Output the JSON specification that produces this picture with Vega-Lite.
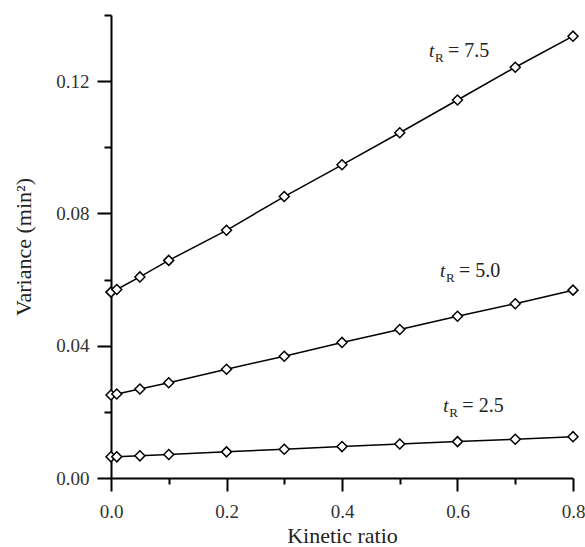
{
  "$schema": "https://vega.github.io/schema/vega-lite/v6.json",
  "width": 462,
  "height": 463,
  "autosize": {"type": "none"},
  "padding": {"left": 111, "top": 15, "right": 12, "bottom": 69},
  "background": "white",
  "config": {
    "view": {"stroke": null},
    "font": "Times New Roman, Liberation Serif, serif",
    "axis": {
      "grid": false,
      "domainColor": "black",
      "domainWidth": 2,
      "tickColor": "black",
      "tickWidth": 2,
      "labelFont": "Times New Roman, Liberation Serif, serif",
      "labelFontSize": 19,
      "labelColor": "#333333",
      "labelFlush": false,
      "titleFont": "Times New Roman, Liberation Serif, serif",
      "titleFontSize": 22,
      "titleFontWeight": "normal",
      "titleColor": "#222222"
    }
  },
  "datasets": {
    "pts": [
      {"ratio": 0.0, "variance": 0.0562, "tR": "7.5"},
      {"ratio": 0.01, "variance": 0.0570, "tR": "7.5"},
      {"ratio": 0.05, "variance": 0.0608, "tR": "7.5"},
      {"ratio": 0.1, "variance": 0.0658, "tR": "7.5"},
      {"ratio": 0.2, "variance": 0.0749, "tR": "7.5"},
      {"ratio": 0.3, "variance": 0.0851, "tR": "7.5"},
      {"ratio": 0.4, "variance": 0.0947, "tR": "7.5"},
      {"ratio": 0.5, "variance": 0.1044, "tR": "7.5"},
      {"ratio": 0.6, "variance": 0.1143, "tR": "7.5"},
      {"ratio": 0.7, "variance": 0.1242, "tR": "7.5"},
      {"ratio": 0.8, "variance": 0.1336, "tR": "7.5"},
      {"ratio": 0.0, "variance": 0.0251, "tR": "5.0"},
      {"ratio": 0.01, "variance": 0.0254, "tR": "5.0"},
      {"ratio": 0.05, "variance": 0.0269, "tR": "5.0"},
      {"ratio": 0.1, "variance": 0.0288, "tR": "5.0"},
      {"ratio": 0.2, "variance": 0.0329, "tR": "5.0"},
      {"ratio": 0.3, "variance": 0.0368, "tR": "5.0"},
      {"ratio": 0.4, "variance": 0.0410, "tR": "5.0"},
      {"ratio": 0.5, "variance": 0.0449, "tR": "5.0"},
      {"ratio": 0.6, "variance": 0.0489, "tR": "5.0"},
      {"ratio": 0.7, "variance": 0.0527, "tR": "5.0"},
      {"ratio": 0.8, "variance": 0.0568, "tR": "5.0"},
      {"ratio": 0.0, "variance": 0.0064, "tR": "2.5"},
      {"ratio": 0.01, "variance": 0.0064, "tR": "2.5"},
      {"ratio": 0.05, "variance": 0.0067, "tR": "2.5"},
      {"ratio": 0.1, "variance": 0.0071, "tR": "2.5"},
      {"ratio": 0.2, "variance": 0.0079, "tR": "2.5"},
      {"ratio": 0.3, "variance": 0.0087, "tR": "2.5"},
      {"ratio": 0.4, "variance": 0.0095, "tR": "2.5"},
      {"ratio": 0.5, "variance": 0.0103, "tR": "2.5"},
      {"ratio": 0.6, "variance": 0.0110, "tR": "2.5"},
      {"ratio": 0.7, "variance": 0.0117, "tR": "2.5"},
      {"ratio": 0.8, "variance": 0.0125, "tR": "2.5"}
    ],
    "labels": [
      {"ratio": 0.5506, "variance": 0.1274, "rest": "= 7.5"},
      {"ratio": 0.5697, "variance": 0.0608, "rest": "= 5.0"},
      {"ratio": 0.5755, "variance": 0.0200, "rest": "= 2.5"}
    ]
  },
  "layer": [
    {
      "data": {"name": "pts"},
      "mark": {"type": "line", "color": "black", "strokeWidth": 1.5},
      "encoding": {
        "x": {
          "field": "ratio", "type": "quantitative",
          "scale": {"domain": [0, 0.8], "nice": false, "zero": false},
          "axis": {
            "title": "Kinetic ratio",
            "values": [0, 0.1, 0.2, 0.3, 0.4, 0.5, 0.6, 0.7, 0.8],
            "format": ".1f",
            "labelExpr": "round(datum.value*10) % 2 === 0 ? datum.label : ''",
            "tickSize": {"condition": {"test": "round(datum.value*10) % 2 === 0", "value": 13}, "value": 6},
            "labelPadding": 11,
            "titlePadding": 4
          }
        },
        "y": {
          "field": "variance", "type": "quantitative",
          "scale": {"domain": [0, 0.14], "nice": false},
          "axis": {
            "title": "Variance (min²)",
            "values": [0, 0.02, 0.04, 0.06, 0.08, 0.1, 0.12, 0.14],
            "format": ".2f",
            "labelExpr": "round(datum.value*100) % 4 === 0 ? datum.label : ''",
            "tickSize": {"condition": {"test": "round(datum.value*100) % 4 === 0", "value": 14}, "value": 7},
            "labelPadding": 8,
            "titlePadding": 20
          }
        },
        "detail": {"field": "tR"}
      }
    },
    {
      "data": {"name": "pts"},
      "mark": {"type": "point", "shape": "diamond", "size": 100, "fill": "white", "fillOpacity": 1, "stroke": "black", "strokeWidth": 1.5, "opacity": 1},
      "encoding": {
        "x": {"field": "ratio", "type": "quantitative"},
        "y": {"field": "variance", "type": "quantitative"}
      }
    },
    {
      "data": {"name": "labels"},
      "mark": {"type": "text", "text": "t", "font": "Times New Roman, Liberation Serif, serif", "fontStyle": "italic", "fontSize": 19, "align": "left", "baseline": "alphabetic", "color": "#222222"},
      "encoding": {
        "x": {"field": "ratio", "type": "quantitative"},
        "y": {"field": "variance", "type": "quantitative"}
      }
    },
    {
      "data": {"name": "labels"},
      "mark": {"type": "text", "text": "R", "font": "Times New Roman, Liberation Serif, serif", "fontSize": 13, "align": "left", "baseline": "alphabetic", "dx": 6, "dy": 5, "color": "#222222"},
      "encoding": {
        "x": {"field": "ratio", "type": "quantitative"},
        "y": {"field": "variance", "type": "quantitative"}
      }
    },
    {
      "data": {"name": "labels"},
      "mark": {"type": "text", "font": "Times New Roman, Liberation Serif, serif", "fontSize": 20, "align": "left", "baseline": "alphabetic", "dx": 19, "color": "#222222"},
      "encoding": {
        "x": {"field": "ratio", "type": "quantitative"},
        "y": {"field": "variance", "type": "quantitative"},
        "text": {"field": "rest"}
      }
    }
  ]
}
